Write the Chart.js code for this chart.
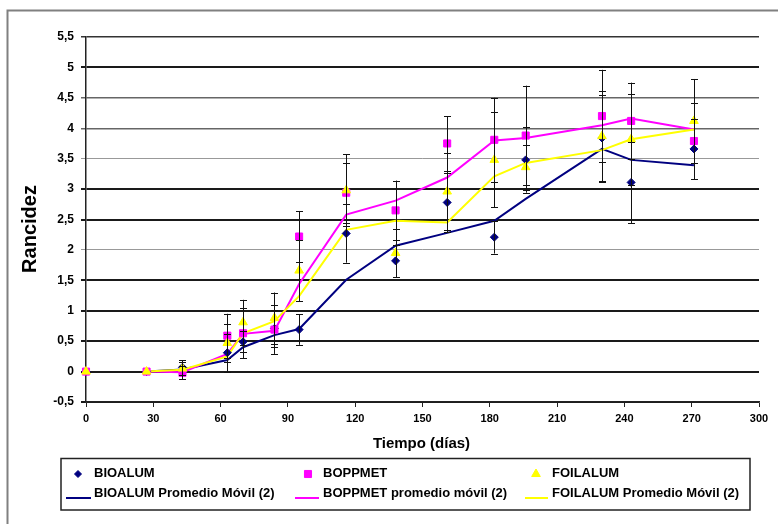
<!DOCTYPE html>
<html>
<head>
<meta charset="utf-8">
<script src="https://cdn.jsdelivr.net/npm/chart.js@4.4.0/dist/chart.umd.min.js"></script>
<style>
  html, body { margin: 0; padding: 0; background: #fff; }
  #wrap { position: relative; width: 778px; height: 524px; }
</style>
</head>
<body>
<div id="wrap"><canvas id="grafico" width="778" height="524"></canvas></div>
<script>
// Días de muestreo
const dias = [0, 27, 43, 63, 70, 84, 95, 116, 138, 161, 182, 196, 230, 243, 271];

// Rancidez medida por empaque
const bioalum = [0, 0, 0.07, 0.31, 0.49, 0.71, 0.69, 2.27, 1.82, 2.78, 2.21, 3.48, 3.84, 3.11, 3.66];
const boppmet = [0, 0, -0.02, 0.59, 0.63, 0.69, 2.22, 2.94, 2.65, 3.75, 3.81, 3.88, 4.20, 4.12, 3.79];
const foilalum = [0, 0, 0.05, 0.47, 0.81, 0.88, 1.66, 2.98, 1.95, 2.96, 3.48, 3.36, 3.87, 3.82, 4.12];

// Barras de error (±)
const bioalumErr = [0, 0, 0.12, 0.31, 0.17, 0.30, 0.25, 0.48, 0.26, 0.49, 0.27, 0.54, 0.70, 0.67, 0.50];
const boppmetErr = [0, 0, 0.11, 0.36, 0.41, 0.40, 0.42, 0.49, 0.49, 0.45, 0.69, 0.82, 0.76, 0.63, 0.63];
const foilalumErr = [0, 0, 0.10, 0.32, 0.37, 0.42, 0.50, 0.59, 0.40, 0.64, 0.78, 0.37, 0.75, 0.75, 0.69];

const diasMovil = [27, 43, 63, 70, 84, 95, 116, 138, 161, 182, 196, 230, 243, 271];
const bioalumMovil = [0, 0.035, 0.19, 0.40, 0.60, 0.70, 1.51, 2.07, 2.28, 2.48, 2.84, 3.66, 3.48, 3.39];
const boppmetMovil = [0, -0.01, 0.29, 0.62, 0.67, 1.44, 2.58, 2.81, 3.19, 3.80, 3.84, 4.05, 4.16, 3.98];
const foilalumMovil = [0, 0.03, 0.25, 0.63, 0.83, 1.24, 2.33, 2.48, 2.45, 3.21, 3.43, 3.64, 3.82, 3.98];

const etiquetas = ["BIOALUM", "BOPPMET", "FOILALUM"];
const etiquetasMovil = ["BIOALUM Promedio Móvil (2)", "BOPPMET promedio móvil (2)", "FOILALUM Promedio Móvil (2)"];

const AZUL = "#000080";
const ROSA = "#FF00FF";
const AMARILLO = "#FFFF00";
const FUENTE = "'Liberation Sans', Arial, sans-serif";

const toPoints = (xs, ys) => xs.map((x, i) => ({ x, y: ys[i] }));

// Estilo de las líneas horizontales (imita el grosor desigual del original)
const estiloGrid = (v) => {
  const k = Math.round(v * 10);
  if ([50, 30, 25, 15, 10, 5, 0, -5].includes(k)) return { color: "#1a1a1a", width: 2 };
  if (k === 55) return { color: "#333", width: 1.5 };
  if (k === 45 || k === 40) return { color: "#666", width: 1.5 };
  return { color: "#999", width: 1 };
};

const errorBars = {
  id: "errorBars",
  afterDatasetsDraw(chart) {
    const { ctx, scales: { x, y } } = chart;
    const series = [[bioalum, bioalumErr], [boppmet, boppmetErr], [foilalum, foilalumErr]];
    ctx.save();
    ctx.strokeStyle = "#111";
    ctx.lineWidth = 1;
    series.forEach(([vals, errs]) => {
      vals.forEach((v, i) => {
        if (!errs[i]) return;
        const px = Math.round(x.getPixelForValue(dias[i])) + 0.5;
        const top = y.getPixelForValue(v + errs[i]);
        const bot = y.getPixelForValue(v - errs[i]);
        ctx.beginPath();
        ctx.moveTo(px, top);
        ctx.lineTo(px, bot);
        ctx.moveTo(px - 3.5, Math.round(top) + 0.5);
        ctx.lineTo(px + 3.5, Math.round(top) + 0.5);
        ctx.moveTo(px - 3.5, Math.round(bot) + 0.5);
        ctx.lineTo(px + 3.5, Math.round(bot) + 0.5);
        ctx.stroke();
      });
    });
    ctx.restore();
  }
};

const marco = {
  id: "marco",
  afterDraw(chart) {
    const { ctx, chartArea } = chart;
    ctx.save();

    // borde exterior
    ctx.strokeStyle = "#808080";
    ctx.lineWidth = 2;
    ctx.beginPath();
    ctx.moveTo(7.5, 530);
    ctx.lineTo(7.5, 10.5);
    ctx.lineTo(780, 10.5);
    ctx.stroke();

    // títulos de ejes
    ctx.fillStyle = "#000";
    ctx.textAlign = "center";
    ctx.textBaseline = "middle";
    ctx.font = `bold 15px ${FUENTE}`;
    ctx.fillText("Tiempo (días)", (chartArea.left + chartArea.right) / 2 - 1, 444);
    ctx.save();
    ctx.translate(30, 229);
    ctx.rotate(-Math.PI / 2);
    ctx.font = `bold 20px ${FUENTE}`;
    ctx.fillText("Rancidez", 0, 0);
    ctx.restore();

    // leyenda
    ctx.strokeStyle = "#222";
    ctx.lineWidth = 1.5;
    ctx.strokeRect(61, 458.5, 689, 51.5);
    ctx.font = `bold 13px ${FUENTE}`;
    ctx.textAlign = "left";
    const filas = [473, 493];
    const colMarca = [78, 308, 536];
    const colTexto = [94, 323, 552];
    const colLinea = [[66, 91], [295, 319], [525, 548]];
    const colores = [AZUL, ROSA, AMARILLO];
    const formas = ["rectRot", "rect", "triangle"];
    const radios = [3.5, 5, 5];
    colores.forEach((c, i) => {
      ctx.fillStyle = c;
      ctx.strokeStyle = c;
      ctx.lineWidth = 1;
      Chart.helpers.drawPoint(ctx, { pointStyle: formas[i], radius: radios[i], borderWidth: 1, rotation: 0 }, colMarca[i], filas[0] + 1);
      ctx.fillStyle = "#000";
      ctx.fillText(etiquetas[i], colTexto[i], filas[0]);
      ctx.strokeStyle = c;
      ctx.lineWidth = 2;
      ctx.beginPath();
      ctx.moveTo(colLinea[i][0], filas[1] + 5);
      ctx.lineTo(colLinea[i][1], filas[1] + 5);
      ctx.stroke();
      ctx.fillText(etiquetasMovil[i], colTexto[i], filas[1]);
    });
    ctx.restore();
  }
};

new Chart(document.getElementById("grafico").getContext("2d"), {
  type: "scatter",
  data: {
    datasets: [
      {
        label: etiquetas[0],
        data: toPoints(dias, bioalum),
        pointStyle: "rectRot",
        pointRadius: 4,
        backgroundColor: AZUL,
        borderColor: AZUL,
        borderWidth: 1,
        clip: false,
        order: 3
      },
      {
        label: etiquetas[1],
        data: toPoints(dias, boppmet),
        pointStyle: "rect",
        pointRadius: 5,
        backgroundColor: ROSA,
        borderColor: ROSA,
        borderWidth: 1,
        clip: false,
        order: 2
      },
      {
        label: etiquetas[2],
        data: toPoints(dias, foilalum),
        pointStyle: "triangle",
        pointRadius: 5,
        backgroundColor: AMARILLO,
        borderColor: AMARILLO,
        borderWidth: 1,
        clip: false,
        order: 1
      },
      {
        type: "line",
        label: etiquetasMovil[0],
        data: toPoints(diasMovil, bioalumMovil),
        borderColor: AZUL,
        borderWidth: 2,
        pointRadius: 0,
        tension: 0,
        order: 6
      },
      {
        type: "line",
        label: etiquetasMovil[1],
        data: toPoints(diasMovil, boppmetMovil),
        borderColor: ROSA,
        borderWidth: 2,
        pointRadius: 0,
        tension: 0,
        order: 5
      },
      {
        type: "line",
        label: etiquetasMovil[2],
        data: toPoints(diasMovil, foilalumMovil),
        borderColor: AMARILLO,
        borderWidth: 2,
        pointRadius: 0,
        tension: 0,
        order: 4
      }
    ]
  },
  options: {
    responsive: false,
    animation: false,
    devicePixelRatio: 1,
    layout: { padding: { top: 37, right: 19, left: 0, bottom: 0 } },
    plugins: {
      legend: { display: false },
      tooltip: { enabled: false }
    },
    scales: {
      x: {
        type: "linear",
        min: 0,
        max: 300,
        afterFit: (s) => { s.height = 122; },
        ticks: {
          stepSize: 30,
          padding: 5,
          color: "#000",
          font: { family: FUENTE, size: 11, weight: "bold" }
        },
        grid: { drawOnChartArea: false, drawTicks: true, tickLength: 5, color: "#222", lineWidth: 1 },
        border: { display: true, color: "#222", width: 1.5 }
      },
      y: {
        min: -0.5,
        max: 5.5,
        afterFit: (s) => { s.width = 86; },
        ticks: {
          stepSize: 0.5,
          padding: 7,
          color: "#000",
          font: { family: FUENTE, size: 12, weight: "bold" },
          callback: (v) => String(v).replace(".", ",")
        },
        grid: {
          drawTicks: true,
          tickLength: 5,
          color: (c) => estiloGrid(c.tick ? c.tick.value : 0).color,
          lineWidth: (c) => estiloGrid(c.tick ? c.tick.value : 0).width
        },
        border: { display: true, color: "#222", width: 1.5 }
      }
    }
  },
  plugins: [errorBars, marco]
});
</script>
</body>
</html>
